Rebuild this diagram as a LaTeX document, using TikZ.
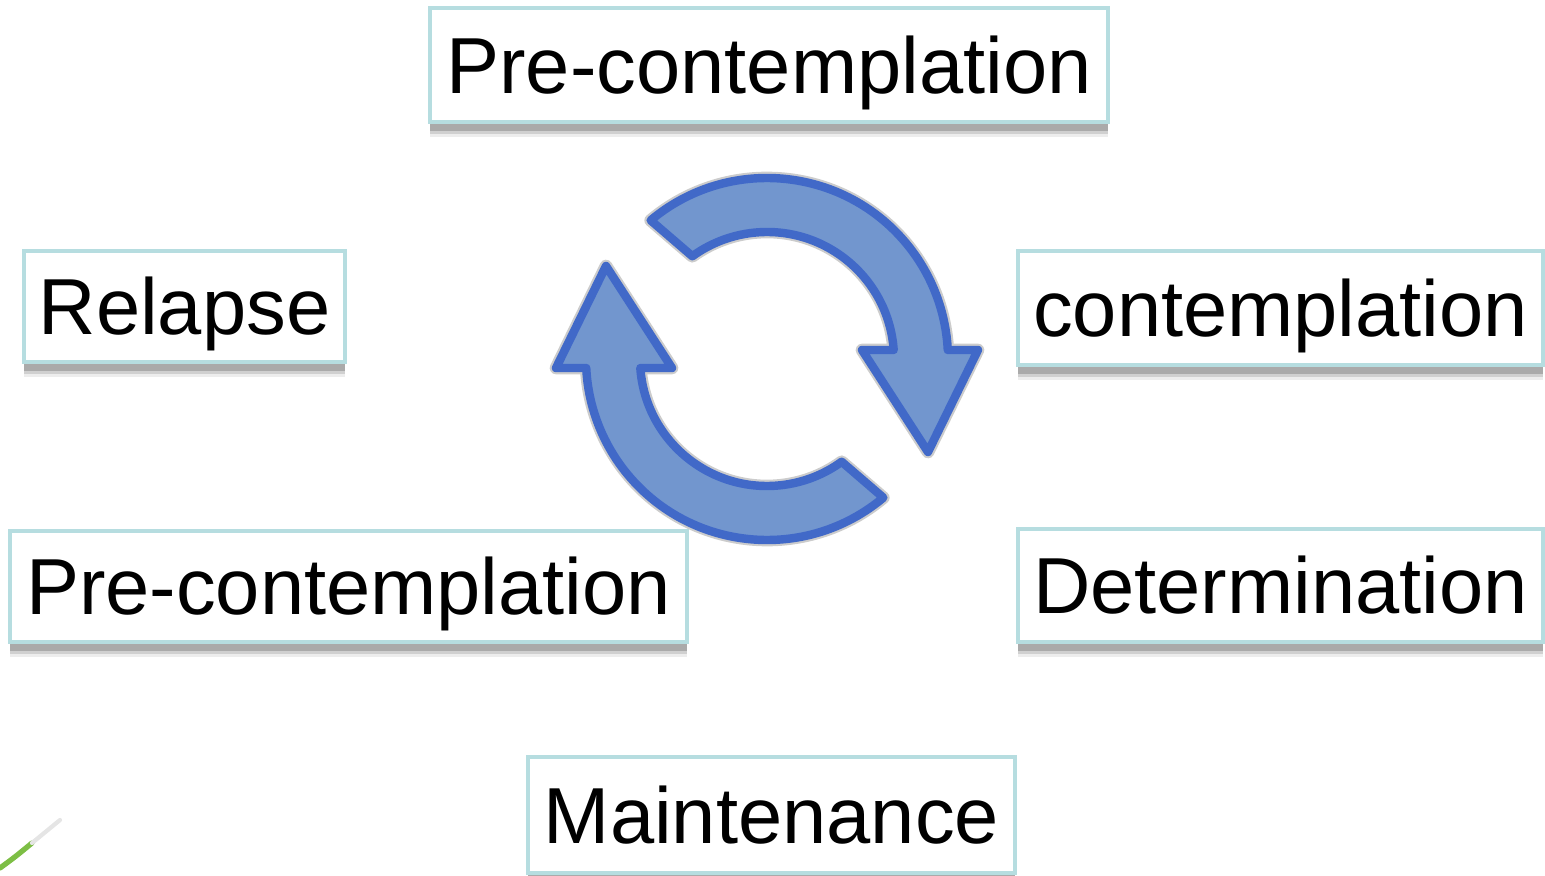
\documentclass[tikz,border=0pt]{standalone}
\usepackage{fontspec}
\setmainfont{Liberation Sans}
\usepackage{tikz}
\usetikzlibrary{shadows}
\definecolor{stageedge}{HTML}{B6DDE0}
\definecolor{cyclefill}{HTML}{7296CE}
\definecolor{cycleedge}{HTML}{4169C8}
\definecolor{leafgreen}{HTML}{7DBE45}

\tikzset{
  stage/.style={draw=stageedge, fill=white, line width=1.1pt,
    inner sep=0pt, text height=16.2pt, text depth=0pt,
    font=\fontsize{22.6}{26}\selectfont,
    drop shadow={shadow xshift=0pt, shadow yshift=-4.2pt, fill=black, opacity=0.07},
    drop shadow={shadow xshift=0pt, shadow yshift=-3.4pt, fill=black, opacity=0.12},
    drop shadow={shadow xshift=0pt, shadow yshift=-2.6pt, fill=black, opacity=0.18}},
  cyclearrow/.style={fill=cyclefill, draw=cycleedge, line width=2.4pt, line join=round,
    preaction={draw=gray!40, line width=3.6pt, line join=round}}
}

\begin{document}
\begin{tikzpicture}[x=0.01cm, y=0.01cm]
\useasboundingbox (0,0) rectangle (1545,875);

% stage boxes
\node[stage, minimum width=6.78cm, minimum height=1.14cm] (pretop) at (769,810) {Pre-contemplation};
\node[stage, minimum width=3.21cm, minimum height=1.11cm] (relapse) at (184.5,568.5) {Relapse};
\node[stage, minimum width=5.25cm, minimum height=1.14cm] (contemp) at (1280.5,567) {contemplation};
\node[stage, minimum width=6.77cm, minimum height=1.11cm] (prelow) at (348.5,288.5) {Pre-contemplation};
\node[stage, minimum width=5.25cm, minimum height=1.13cm] (determ) at (1280.5,289.5) {Determination};
\node[stage, minimum width=4.87cm, minimum height=1.16cm] (maint) at (771.5,60) {Maintenance};

% cycle arrows
\foreach \turn in {0,180}{
  \begin{scope}[shift={(767,516)}, rotate=\turn]
    \draw[cyclearrow] (130:181) arc[start angle=130, end angle=2.85, radius=181]
      -- (211,9) -- (161,-93) -- (95,9)
      -- (4.06:127) arc[start angle=4.06, end angle=126, radius=127] -- cycle;
  \end{scope}
}

% leaf stroke
\draw[leafgreen, line width=1.5pt, line cap=round] (0,7) .. controls (15,18) .. (32,32);
\draw[gray!20, line width=1.2pt, line cap=round] (32,32) -- (60,55);
\end{tikzpicture}
\end{document}
